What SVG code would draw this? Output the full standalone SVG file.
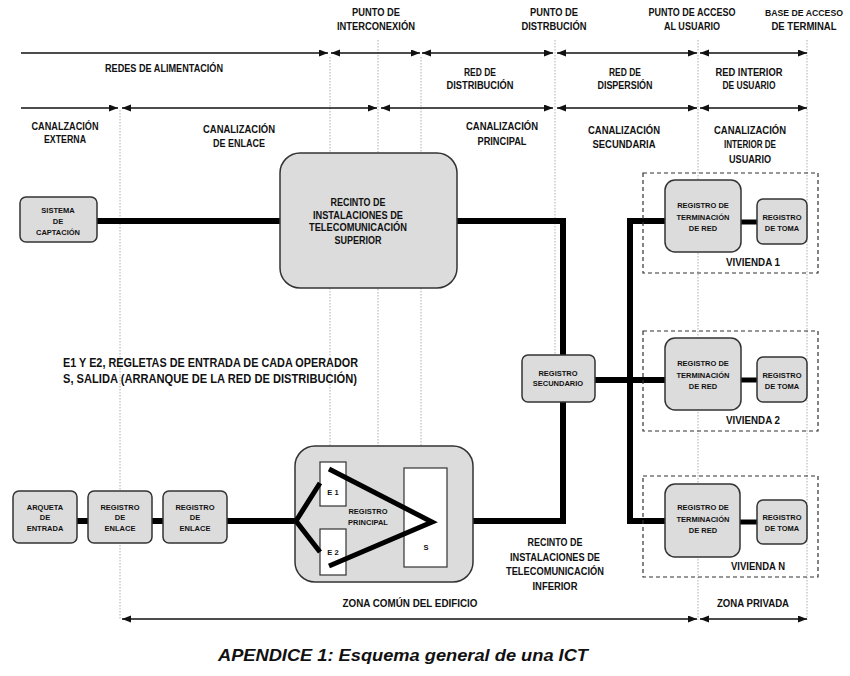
<svg xmlns="http://www.w3.org/2000/svg" width="850" height="676" viewBox="0 0 850 676">
<style>
.t{font-family:"Liberation Sans",Arial,sans-serif;font-weight:bold;fill:#111;text-anchor:middle}
.h{font-size:10.5px}
.s{font-size:7.5px}
.m{font-size:12.5px;text-anchor:start}
.cap{font-family:"Liberation Sans",Arial,sans-serif;font-weight:bold;font-style:italic;font-size:17px;fill:#111}
.box{fill:#dcdcdc;stroke:#333;stroke-width:1.5}
.wbox{fill:#fff;stroke:#333;stroke-width:1.2}
.dash{fill:none;stroke:#333;stroke-width:1.2;stroke-dasharray:4 3}
.dot{stroke:#999;stroke-width:0.8;stroke-dasharray:1.5 1.5;fill:none}
.ar{stroke:#111;stroke-width:1.5;fill:none}
.w{stroke:#000;stroke-width:6;fill:none;stroke-linejoin:miter}
.w5{stroke:#000;stroke-width:5;fill:none;stroke-linejoin:miter}
</style>
<defs>
<marker id="ah" markerUnits="userSpaceOnUse" markerWidth="10" markerHeight="8" refX="9" refY="3.5" orient="auto-start-reverse">
<path d="M0,0 L9,3.5 L0,7 z" fill="#111"/>
</marker>
</defs>
<rect width="850" height="676" fill="#fff"/>

<g id="guides">
<line class="dot" x1="120" y1="110" x2="120" y2="620"/>
<line class="dot" x1="330" y1="57" x2="330" y2="450"/>
<line class="dot" x1="378" y1="40" x2="378" y2="450"/>
<line class="dot" x1="421" y1="57" x2="421" y2="465"/>
<line class="dot" x1="555" y1="40" x2="555" y2="380"/>
<line class="dot" x1="698" y1="40" x2="698" y2="620"/>
<line class="dot" x1="807" y1="40" x2="807" y2="620"/>
</g>

<g id="scale-arrows">
<line class="ar" x1="21" y1="53" x2="328" y2="53" marker-end="url(#ah)"/>
<line class="ar" x1="331" y1="53" x2="420" y2="53" marker-start="url(#ah)" marker-end="url(#ah)"/>
<line class="ar" x1="422" y1="53" x2="553" y2="53" marker-start="url(#ah)" marker-end="url(#ah)"/>
<line class="ar" x1="557" y1="53" x2="697" y2="53" marker-start="url(#ah)" marker-end="url(#ah)"/>
<line class="ar" x1="700" y1="53" x2="807" y2="53" marker-start="url(#ah)" marker-end="url(#ah)"/>
<line class="ar" x1="21" y1="108" x2="118" y2="108" marker-end="url(#ah)"/>
<line class="ar" x1="122" y1="108" x2="377" y2="108" marker-start="url(#ah)" marker-end="url(#ah)"/>
<line class="ar" x1="381" y1="108" x2="553" y2="108" marker-start="url(#ah)" marker-end="url(#ah)"/>
<line class="ar" x1="557" y1="108" x2="697" y2="108" marker-start="url(#ah)" marker-end="url(#ah)"/>
<line class="ar" x1="700" y1="108" x2="807" y2="108" marker-start="url(#ah)" marker-end="url(#ah)"/>
<line class="ar" x1="122" y1="619" x2="697" y2="619" marker-start="url(#ah)" marker-end="url(#ah)"/>
<line class="ar" x1="700" y1="619" x2="807" y2="619" marker-start="url(#ah)" marker-end="url(#ah)"/>
</g>

<g id="labels">
<text class="t h" x="376" y="16" textLength="48" lengthAdjust="spacingAndGlyphs">PUNTO DE</text>
<text class="t h" x="376" y="30" textLength="78" lengthAdjust="spacingAndGlyphs">INTERCONEXIÓN</text>
<text class="t h" x="554" y="16" textLength="48" lengthAdjust="spacingAndGlyphs">PUNTO DE</text>
<text class="t h" x="554" y="30" textLength="65" lengthAdjust="spacingAndGlyphs">DISTRBUCIÓN</text>
<text class="t h" x="692" y="16" textLength="87" lengthAdjust="spacingAndGlyphs">PUNTO DE ACCESO</text>
<text class="t h" x="692" y="30" textLength="56" lengthAdjust="spacingAndGlyphs">AL USUARIO</text>
<text class="t" x="804" y="16" font-size="9" textLength="78" lengthAdjust="spacingAndGlyphs">BASE DE ACCESO</text>
<text class="t h" x="804" y="30" textLength="65" lengthAdjust="spacingAndGlyphs">DE TERMINAL</text>
<text class="t h" x="164" y="72" textLength="118" lengthAdjust="spacingAndGlyphs">REDES DE ALIMENTACIÓN</text>
<text class="t h" x="480" y="76" textLength="32" lengthAdjust="spacingAndGlyphs">RED DE</text>
<text class="t h" x="480" y="89" textLength="67" lengthAdjust="spacingAndGlyphs">DISTRIBUCIÓN</text>
<text class="t h" x="625" y="76" textLength="32" lengthAdjust="spacingAndGlyphs">RED DE</text>
<text class="t h" x="625" y="89" textLength="55" lengthAdjust="spacingAndGlyphs">DISPERSIÓN</text>
<text class="t h" x="749" y="76" textLength="67" lengthAdjust="spacingAndGlyphs">RED INTERIOR</text>
<text class="t h" x="749" y="89" textLength="53" lengthAdjust="spacingAndGlyphs">DE USUARIO</text>
<text class="t h" x="65" y="130" textLength="67" lengthAdjust="spacingAndGlyphs">CANALZACIÓN</text>
<text class="t h" x="65" y="143" textLength="42" lengthAdjust="spacingAndGlyphs">EXTERNA</text>
<text class="t h" x="239" y="133" textLength="72" lengthAdjust="spacingAndGlyphs">CANALIZACIÓN</text>
<text class="t h" x="239" y="147" textLength="52" lengthAdjust="spacingAndGlyphs">DE ENLACE</text>
<text class="t h" x="502" y="130" textLength="72" lengthAdjust="spacingAndGlyphs">CANALIZACIÓN</text>
<text class="t h" x="502" y="145" textLength="49" lengthAdjust="spacingAndGlyphs">PRINCIPAL</text>
<text class="t h" x="624" y="134" textLength="72" lengthAdjust="spacingAndGlyphs">CANALIZACIÓN</text>
<text class="t h" x="624" y="148" textLength="63" lengthAdjust="spacingAndGlyphs">SECUNDARIA</text>
<text class="t h" x="750" y="134" textLength="72" lengthAdjust="spacingAndGlyphs">CANALIZACIÓN</text>
<text class="t h" x="750" y="148" textLength="52" lengthAdjust="spacingAndGlyphs">INTERIOR DE</text>
<text class="t h" x="750" y="163" textLength="42" lengthAdjust="spacingAndGlyphs">USUARIO</text>
<text class="t m" x="63" y="367" textLength="295" lengthAdjust="spacingAndGlyphs">E1 Y E2, REGLETAS DE ENTRADA DE CADA OPERADOR</text>
<text class="t m" x="63" y="383" textLength="294" lengthAdjust="spacingAndGlyphs">S, SALIDA (ARRANQUE DE LA RED DE DISTRIBUCIÓN)</text>
<text class="t h" x="555" y="546" textLength="55" lengthAdjust="spacingAndGlyphs">RECINTO DE</text>
<text class="t h" x="555" y="561" textLength="90" lengthAdjust="spacingAndGlyphs">INSTALACIONES DE</text>
<text class="t h" x="555" y="575" textLength="98" lengthAdjust="spacingAndGlyphs">TELECOMUNICACIÓN</text>
<text class="t h" x="555" y="590" textLength="45" lengthAdjust="spacingAndGlyphs">INFERIOR</text>
<text class="t h" x="410" y="607" textLength="135" lengthAdjust="spacingAndGlyphs">ZONA COMÚN DEL EDIFICIO</text>
<text class="t h" x="753" y="607" textLength="72" lengthAdjust="spacingAndGlyphs">ZONA PRIVADA</text>
<text class="cap" x="218" y="661" textLength="370" lengthAdjust="spacingAndGlyphs">APENDICE 1: Esquema general de una ICT</text>
</g>

<g id="connectors">
<polyline class="w" points="97,221 280,221"/>
<polyline class="w" points="457,221 563,221 563,356"/>
<polyline class="w" points="473,521 563,521 563,401"/>
<polyline class="w" points="595,380 665,380"/>
<polyline class="w" points="665,221 630,221 630,521 665,521"/>
<polyline class="w5" points="741,222 757,222"/>
<polyline class="w5" points="741,380 757,380"/>
<polyline class="w5" points="740,522 757,522"/>
<polyline class="w" points="77,521 88,521"/>
<polyline class="w" points="152,521 163,521"/>
<polyline class="w" points="227,521 296,521"/>
</g>

<g id="sistema-captacion">
<rect class="box" x="20" y="197" width="77" height="45" rx="6"/>
<text class="t s" x="58" y="213">SISTEMA</text>
<text class="t s" x="58" y="224">DE</text>
<text class="t s" x="58" y="235">CAPTACIÓN</text>
</g>

<g id="recinto-superior">
<rect class="box" x="280" y="153" width="177" height="135" rx="20"/>
<text class="t h" x="358" y="206" textLength="55" lengthAdjust="spacingAndGlyphs">RECINTO DE</text>
<text class="t h" x="358" y="219" textLength="90" lengthAdjust="spacingAndGlyphs">INSTALACIONES DE</text>
<text class="t h" x="358" y="231" textLength="98" lengthAdjust="spacingAndGlyphs">TELECOMUNICACIÓN</text>
<text class="t h" x="358" y="244" textLength="47" lengthAdjust="spacingAndGlyphs">SUPERIOR</text>
</g>

<g id="registro-secundario">
<rect class="box" x="522" y="355" width="73" height="47" rx="6"/>
<text class="t s" x="558" y="376">REGISTRO</text>
<text class="t s" x="558" y="386">SECUNDARIO</text>
</g>

<g id="vivienda-1">
<rect class="dash" x="643" y="173" width="175" height="100"/>
<rect class="box" x="665" y="180" width="76" height="72" rx="10"/>
<text class="t s" x="703" y="208">REGISTRO DE</text>
<text class="t s" x="703" y="220">TERMINACIÓN</text>
<text class="t s" x="703" y="231">DE RED</text>
<rect class="box" x="757" y="199" width="50" height="45" rx="6"/>
<text class="t s" x="782" y="220">REGISTRO</text>
<text class="t s" x="782" y="231">DE TOMA</text>
<text class="t h" x="753" y="266" textLength="54" lengthAdjust="spacingAndGlyphs">VIVIENDA 1</text>
</g>

<g id="vivienda-2">
<rect class="dash" x="643" y="331" width="175" height="100"/>
<rect class="box" x="665" y="338" width="76" height="72" rx="10"/>
<text class="t s" x="703" y="366">REGISTRO DE</text>
<text class="t s" x="703" y="378">TERMINACIÓN</text>
<text class="t s" x="703" y="389">DE RED</text>
<rect class="box" x="757" y="357" width="50" height="45" rx="6"/>
<text class="t s" x="782" y="378">REGISTRO</text>
<text class="t s" x="782" y="389">DE TOMA</text>
<text class="t h" x="753" y="424" textLength="54" lengthAdjust="spacingAndGlyphs">VIVIENDA 2</text>
</g>

<g id="vivienda-n">
<rect class="dash" x="643" y="476" width="175" height="101"/>
<rect class="box" x="665" y="484" width="75" height="73" rx="10"/>
<text class="t s" x="703" y="510">REGISTRO DE</text>
<text class="t s" x="703" y="522">TERMINACIÓN</text>
<text class="t s" x="703" y="533">DE RED</text>
<rect class="box" x="757" y="500" width="50" height="44" rx="6"/>
<text class="t s" x="782" y="520">REGISTRO</text>
<text class="t s" x="782" y="531">DE TOMA</text>
<text class="t h" x="758" y="570" textLength="54" lengthAdjust="spacingAndGlyphs">VIVIENDA N</text>
</g>

<g id="arqueta-entrada">
<rect class="box" x="13" y="491" width="64" height="52" rx="6"/>
<text class="t s" x="45" y="510">ARQUETA</text>
<text class="t s" x="45" y="520">DE</text>
<text class="t s" x="45" y="531">ENTRADA</text>
</g>

<g id="registro-enlace-1">
<rect class="box" x="88" y="491" width="64" height="52" rx="6"/>
<text class="t s" x="120" y="510">REGISTRO</text>
<text class="t s" x="120" y="520">DE</text>
<text class="t s" x="120" y="531">ENLACE</text>
</g>

<g id="registro-enlace-2">
<rect class="box" x="163" y="491" width="64" height="52" rx="6"/>
<text class="t s" x="195" y="510">REGISTRO</text>
<text class="t s" x="195" y="520">DE</text>
<text class="t s" x="195" y="531">ENLACE</text>
</g>

<g id="registro-principal">
<rect class="box" x="295" y="446" width="178" height="136" rx="20"/>
<rect class="wbox" x="320" y="462" width="26" height="44"/>
<rect class="wbox" x="320" y="529" width="26" height="46"/>
<rect class="wbox" x="404" y="468" width="43" height="99"/>
<polyline class="w5" points="320,483 296,521 320,552"/>
<polyline class="w5" points="329,469 432,522 329,566"/>
<text class="t s" x="333" y="495">E 1</text>
<text class="t s" x="333" y="555">E 2</text>
<text class="t s" x="368" y="514">REGISTRO</text>
<text class="t s" x="368" y="525">PRINCIPAL</text>
<text class="t s" x="426" y="550">S</text>
</g>
</svg>
